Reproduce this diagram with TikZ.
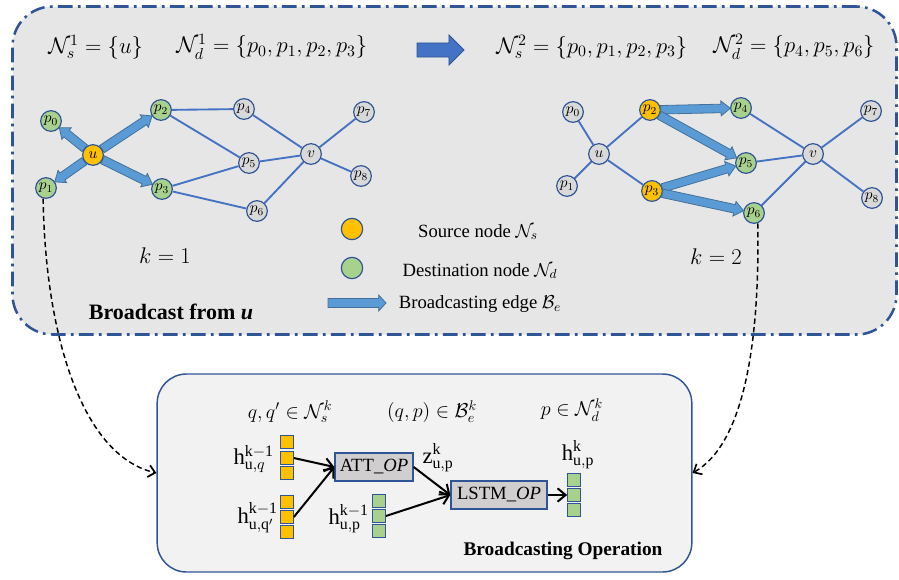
\RequirePackage{fix-cm}
\documentclass[tikz,border=0pt]{standalone}
\usepackage{amsmath}
\usepackage{fontspec}
\setmainfont{Liberation Serif}
\usetikzlibrary{arrows.meta,calc}
\definecolor{outerfill}{HTML}{E7E6E6}
\definecolor{outerborder}{HTML}{2F5597}
\definecolor{lowerfill}{HTML}{F2F2F2}
\definecolor{edgeblue}{HTML}{4472C4}
\definecolor{nodeborder}{HTML}{2F5597}
\definecolor{nodegray}{HTML}{D9D9D9}
\definecolor{nodegreen}{HTML}{A9D18E}
\definecolor{nodeyellow}{HTML}{FFC000}
\definecolor{arrfill}{HTML}{5B9BD5}
\definecolor{arrborder}{HTML}{41719C}
\definecolor{bigarrfill}{HTML}{4472C4}
\definecolor{opfill}{HTML}{D0CECE}
\pgfdeclarelayer{edges}
\pgfsetlayers{edges,main}
% #1 style, #2 start, #3 end, #4 shaft half, #5 head half, #6 head length (numbers, pt), #7 shortening
\newcommand\blockarr[7][blockarrow]{%
  \path ($(#2)!#7!(#3)$) coordinate (ba-s) ($(#3)!#7!(#2)$) coordinate (ba-e);%
  \pgfpointdiff{\pgfpointanchor{ba-s}{center}}{\pgfpointanchor{ba-e}{center}}%
  \pgfgetlastxy{\bax}{\bay}%
  \pgfmathsetmacro\baang{atan2(\bay,\bax)}%
  \pgfmathsetmacro\balen{veclen(\bax,\bay)}%
  \pgfmathsetmacro\babase{\balen-#6}%
  \begin{scope}[shift={(ba-s)},rotate=\baang]
    \draw[#1] (0pt,-#4pt) -- (\babase pt,-#4pt) -- (\babase pt,-#5pt) -- (\balen pt,0pt)
      -- (\babase pt,#5pt) -- (\babase pt,#4pt) -- (0pt,#4pt) -- cycle;
  \end{scope}%
}
\begin{document}
\begin{tikzpicture}[x=0.75pt,y=-0.75pt,
  blockarrow/.style={fill=arrfill,draw=arrborder,line width=0.6pt,line join=miter},
  bigarrow/.style={fill=bigarrfill,draw=outerborder,line width=0.6pt,line join=miter},
  gnode/.style={circle,draw=nodeborder,line width=0.9pt,minimum size=15.5pt,inner sep=0pt,font=\fontsize{11.5}{13}\selectfont},
  ngray/.style={gnode,fill=nodegray},
  ngreen/.style={gnode,fill=nodegreen},
  nyellow/.style={gnode,fill=nodeyellow},
  gedge/.style={draw=edgeblue,line width=1.4pt},
  eqfont/.style={font=\fontsize{17}{20}\selectfont,inner sep=0pt},
  legtext/.style={font=\fontsize{14}{16}\selectfont,inner sep=0pt},
  cell/.style={draw=nodeborder,line width=0.8pt,minimum width=9.5pt,minimum height=9.5pt,inner sep=0pt},
  ycell/.style={cell,fill=nodeyellow},
  gcell/.style={cell,fill=nodegreen},
  opbox/.style={draw=nodeborder,fill=opfill,line width=1pt,inner sep=0pt,minimum height=21pt,font=\fontsize{14}{16}\selectfont},
  oparrow/.style={draw=black,line width=1.5pt,-{Straight Barb[length=6pt,width=10pt]}},
  dcurve/.style={draw=black,line width=1.1pt,dash pattern=on 4pt off 2.5pt,-{Straight Barb[length=5pt,width=9pt,line width=1.3pt]}},
  hlabel/.style={font=\fontsize{17}{20}\selectfont,inner sep=0pt},
  setlabel/.style={font=\fontsize{15}{18}\selectfont,inner sep=0pt}
]
\useasboundingbox (0,0) rectangle (899,579);

% outer panel
\begin{pgfonlayer}{edges}
\node[draw=outerborder,fill=outerfill,line width=1.9pt,rounded corners=30pt,
  dash pattern=on 11pt off 4pt on 2pt off 4pt,
  minimum width=663pt,minimum height=246pt,inner sep=0pt] (outer) at (454.5,170.5) {};
\end{pgfonlayer}

% top equations
\node[eqfont,anchor=west] (eq1) at (48,47) {$\mathcal{N}_s^1=\{u\}$};
\node[eqfont,anchor=west] (eq2) at (176,47) {$\mathcal{N}_d^1=\{p_0,p_1,p_2,p_3\}$};
\node[eqfont,anchor=west] (eq3) at (496,47) {$\mathcal{N}_s^2=\{p_0,p_1,p_2,p_3\}$};
\node[eqfont,anchor=west] (eq4) at (713,47) {$\mathcal{N}_d^2=\{p_4,p_5,p_6\}$};
\coordinate (ta-s) at (417,50);
\coordinate (ta-e) at (464,50);
\blockarr[bigarrow]{ta-s}{ta-e}{5.3}{11.3}{11.3}{0pt}

% left graph
\node[ngreen] (L-p0) at (51,121) {$p_0$};
\node[nyellow] (L-u) at (93,155) {$u$};
\node[ngreen] (L-p1) at (46,188) {$p_1$};
\node[ngreen] (L-p2) at (161,110) {$p_2$};
\node[ngreen] (L-p3) at (162,189) {$p_3$};
\node[ngray] (L-p4) at (244,109) {$p_4$};
\node[ngray] (L-p5) at (249,163) {$p_5$};
\node[ngray] (L-p6) at (257,211) {$p_6$};
\node[ngray] (L-v) at (311,154) {$v$};
\node[ngray] (L-p7) at (364,112) {$p_7$};
\node[ngray] (L-p8) at (361,176) {$p_8$};
\begin{pgfonlayer}{edges}
\draw[gedge] (L-p2) -- (L-p4);
\draw[gedge] (L-p2) -- (L-p5);
\draw[gedge] (L-p3) -- (L-p5);
\draw[gedge] (L-p3) -- (L-p6);
\draw[gedge] (L-p4) -- (L-v);
\draw[gedge] (L-p5) -- (L-v);
\draw[gedge] (L-p6) -- (L-v);
\draw[gedge] (L-v) -- (L-p7);
\draw[gedge] (L-v) -- (L-p8);
\blockarr{L-u}{L-p0}{3.2}{5.6}{7}{8pt}
\blockarr{L-u}{L-p1}{3.2}{5.6}{7}{8pt}
\blockarr{L-u}{L-p2}{3.2}{5.6}{7}{8pt}
\blockarr{L-u}{L-p3}{3.2}{5.6}{7}{8pt}
\end{pgfonlayer}
\node[eqfont] (k1) at (165,256) {$k=1$};

% right graph
\node[ngray] (R-p0) at (573,112) {$p_0$};
\node[ngray] (R-u) at (599,154) {$u$};
\node[ngray] (R-p1) at (567,186) {$p_1$};
\node[nyellow] (R-p2) at (650,110) {$p_2$};
\node[nyellow] (R-p3) at (652,191) {$p_3$};
\node[ngreen] (R-p4) at (741,108) {$p_4$};
\node[ngreen] (R-p5) at (746,163) {$p_5$};
\node[ngreen] (R-p6) at (754,213) {$p_6$};
\node[ngray] (R-v) at (813,154) {$v$};
\node[ngray] (R-p7) at (871,111) {$p_7$};
\node[ngray] (R-p8) at (872,198) {$p_8$};
\begin{pgfonlayer}{edges}
\draw[gedge] (R-p0) -- (R-u);
\draw[gedge] (R-p1) -- (R-u);
\draw[gedge] (R-u) -- (R-p2);
\draw[gedge] (R-u) -- (R-p3);
\draw[gedge] (R-p4) -- (R-v);
\draw[gedge] (R-p5) -- (R-v);
\draw[gedge] (R-p6) -- (R-v);
\draw[gedge] (R-v) -- (R-p7);
\draw[gedge] (R-v) -- (R-p8);
\end{pgfonlayer}
\blockarr{R-p2}{R-p4}{3.2}{5.6}{7}{8pt}
\blockarr{R-p2}{R-p5}{3.2}{5.6}{7}{8pt}
\blockarr{R-p3}{R-p5}{3.2}{5.6}{7}{8pt}
\blockarr{R-p3}{R-p6}{3.2}{5.6}{7}{8pt}
\node[eqfont] (k2) at (716,257) {$k=2$};

% legend
\node[nyellow,minimum size=16pt] (leg-s) at (352,229) {};
\node[ngreen,minimum size=16pt] (leg-d) at (352,268) {};
\coordinate (leg-a1) at (328,303);
\coordinate (leg-a2) at (386,303);
\blockarr{leg-a1}{leg-a2}{3.4}{6}{5.5}{0pt}
\node[legtext] (leg-st) at (478,232) {Source node $\mathcal{N}_s$};
\node[legtext] (leg-dt) at (480,271) {Destination node $\mathcal{N}_d$};
\node[legtext] (leg-bt) at (480,304) {Broadcasting edge $\mathcal{B}_e$};
\node[font=\fontsize{16.5}{19}\selectfont\bfseries,inner sep=0pt] (title1) at (171,312) {Broadcast from \textit{u}};

% lower panel
\node[draw=outerborder,fill=lowerfill,line width=1.1pt,rounded corners=22pt,
  minimum width=401pt,minimum height=148.5pt,inner sep=0pt] (low) at (424.5,473) {};
\node[setlabel] (s1) at (290,412) {$q,q'\in\mathcal{N}_s^k$};
\node[setlabel] (s2) at (432,412) {$(q,p)\in\mathcal{B}_e^k$};
\node[setlabel] (s3) at (572,410) {$p\in\mathcal{N}_d^k$};

\node[ycell] (hq1) at (287,442) {};
\node[ycell] (hq2) at (287,458) {};
\node[ycell] (hq3) at (287,473) {};
\node[ycell] (hr1) at (287,502) {};
\node[ycell] (hr2) at (287,517) {};
\node[ycell] (hr3) at (287,532) {};
\node[gcell] (hp1) at (379,501) {};
\node[gcell] (hp2) at (379,516) {};
\node[gcell] (hp3) at (379,531) {};
\node[gcell] (ho1) at (574,480) {};
\node[gcell] (ho2) at (574,495) {};
\node[gcell] (ho3) at (574,510) {};

\node[hlabel,anchor=east] (lhq) at (274,459) {$\mathrm{h}^{\mathrm{k-1}}_{\mathrm{u},q}$};
\node[hlabel,anchor=east] (lhr) at (278,518) {$\mathrm{h}^{\mathrm{k-1}}_{\mathrm{u,q}'}$};
\node[hlabel,anchor=east] (lhp) at (369,519) {$\mathrm{h}^{\mathrm{k-1}}_{\mathrm{u,p}}$};
\node[hlabel] (lz) at (438,458) {$\mathrm{z}^{\mathrm{k}}_{\mathrm{u,p}}$};
\node[hlabel] (lho) at (578,455) {$\mathrm{h}^{\mathrm{k}}_{\mathrm{u,p}}$};

\node[opbox,minimum width=58.5pt] (att) at (374,467) {ATT\_$\mathit{OP}$};
\node[opbox,minimum width=72pt] (lstm) at (499,495) {LSTM\_$\mathit{OP}$};

\draw[oparrow] (hq2.east) -- (att.west);
\draw[oparrow] (hr2.east) -- (att.west);
\draw[oparrow] (att.east) -- (lstm.west);
\draw[oparrow] (hp2.east) -- (lstm.west);
\draw[oparrow] (lstm.east) -- (ho2.west);

\node[font=\fontsize{14.5}{17}\selectfont\bfseries,inner sep=0pt] (title2) at (563,551) {Broadcasting Operation};

% dashed links
\draw[dcurve] (L-p1.255) .. controls (45,330) and (80,455) .. (low.west);
\draw[dcurve] (R-p6.290) .. controls (760,350) and (742,445) .. (low.east);
\end{tikzpicture}
\end{document}
